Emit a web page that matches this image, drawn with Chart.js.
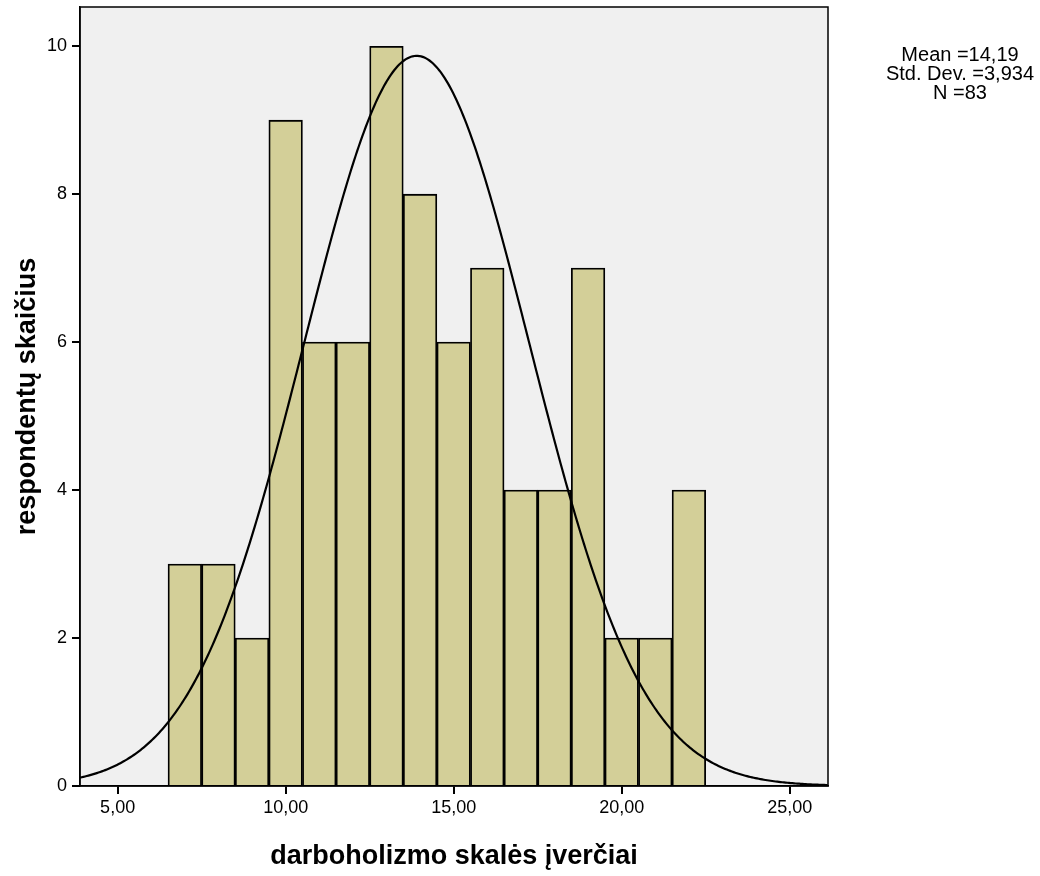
<!DOCTYPE html>
<html>
<head>
<meta charset="utf-8">
<script src="https://cdn.jsdelivr.net/npm/chart.js@4"></script>
<style>
  html, body { margin: 0; padding: 0; background: #fff; }
  #chart { display: block; }
</style>
</head>
<body>
<canvas id="chart" width="1040" height="876"></canvas>
<script>
// histogram bins (centre of each 1-point bin) and respondent counts
const binCentres = [7, 8, 9, 10, 11, 12, 13, 14, 15, 16, 17, 18, 19, 20, 21, 22];
const counts     = [3, 3, 2, 9, 6, 6, 10, 8, 6, 7, 4, 4, 7, 2, 2, 4];

const xTicks = [5, 10, 15, 20, 25];
const yTicks = [0, 2, 4, 6, 8, 10];

// normal curve as drawn over the bars
const curveCentre = 13.9;
const curveSpread = 3.35;
const curvePeak = 9.87;

const statLines = ['Mean =14,19', 'Std. Dev. =3,934', 'N =83'];

const xMin = 3.88, xMax = 26.14, yMax = 10.53;
const font = '"Liberation Sans", Arial, sans-serif';

let bars = binCentres.map((x, i) => ({ x: x, y: counts[i] }));

let curve = [];
for (let x = xMin; x <= xMax + 0.001; x += 0.05) {
    let z = (x - curveCentre) / curveSpread;
    curve.push({ x: x, y: curvePeak * Math.exp(-0.5 * z * z) });
}

const frame = {
    id: 'frame',
    beforeDraw(chart) {
        let { ctx, chartArea: a } = chart;
        ctx.save();
        ctx.fillStyle = '#f0f0f0';
        ctx.fillRect(a.left, a.top, a.right - a.left, a.bottom - a.top);
        ctx.restore();
    },
    afterDraw(chart) {
        let { ctx, chartArea: a } = chart;
        ctx.save();
        ctx.strokeStyle = '#000';
        ctx.lineWidth = 1.5;
        ctx.strokeRect(a.left, a.top, a.right - a.left, a.bottom - a.top);

        ctx.fillStyle = '#000';
        ctx.font = '20px ' + font;
        ctx.textAlign = 'center';
        ctx.textBaseline = 'middle';
        statLines.forEach((t, i) => ctx.fillText(t, 960, 55 + i * 19));
        ctx.restore();
    }
};

const noPad = s => {
    s.paddingTop = 0;
    s.paddingBottom = 0;
    s.paddingLeft = 0;
    s.paddingRight = 0;
};

new Chart(document.getElementById('chart'), {
    data: {
        datasets: [
            {
                type: 'line',
                data: curve,
                borderColor: '#000',
                borderWidth: 2.2,
                pointRadius: 0,
                tension: 0,
                order: 0
            },
            {
                type: 'bar',
                data: bars,
                backgroundColor: '#d3cf98',
                borderColor: '#000',
                borderWidth: 1.8,
                barPercentage: 1,
                categoryPercentage: 1,
                order: 1
            }
        ]
    },
    options: {
        responsive: false,
        animation: false,
        layout: { padding: { top: 7, right: 212, bottom: 0, left: 0 } },
        plugins: {
            legend: { display: false },
            tooltip: { enabled: false }
        },
        scales: {
            x: {
                type: 'linear',
                min: xMin,
                max: xMax,
                offset: false,
                afterBuildTicks: s => { s.ticks = xTicks.map(v => ({ value: v })); },
                afterFit: s => { s.height = 90; noPad(s); },
                grid: { offset: false, drawOnChartArea: false, tickLength: 8, color: '#000', lineWidth: 2 },
                border: { color: '#000', width: 1.5 },
                ticks: {
                    color: '#000',
                    padding: 3,
                    maxRotation: 0,
                    font: { family: font, size: 18 },
                    callback: v => v.toFixed(2).replace('.', ',')
                },
                title: {
                    display: true,
                    text: 'darboholizmo skalės įverčiai',
                    color: '#000',
                    font: { family: font, size: 27, weight: 'bold' },
                    padding: { top: 0, bottom: 3 }
                }
            },
            y: {
                min: 0,
                max: yMax,
                afterBuildTicks: s => { s.ticks = yTicks.map(v => ({ value: v })); },
                afterFit: s => { s.width = 80; noPad(s); },
                grid: { drawOnChartArea: false, tickLength: 8, color: '#000', lineWidth: 2 },
                border: { color: '#000', width: 1.5 },
                ticks: {
                    color: '#000',
                    padding: 5,
                    font: { family: font, size: 18 }
                },
                title: {
                    display: true,
                    text: 'respondentų skaičius',
                    color: '#000',
                    font: { family: font, size: 27, weight: 'bold' },
                    padding: { top: 11, bottom: 0 }
                }
            }
        }
    },
    plugins: [frame]
});
</script>
</body>
</html>
